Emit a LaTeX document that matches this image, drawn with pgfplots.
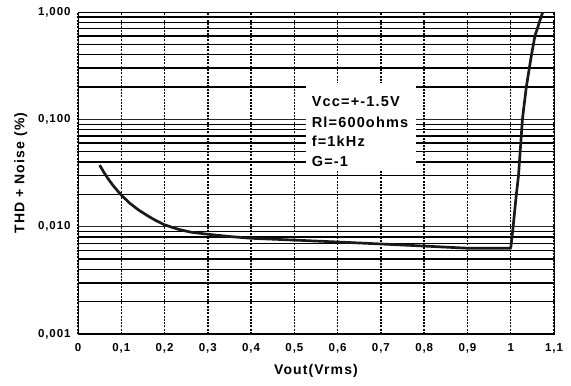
\documentclass[border=0pt]{standalone}
\usepackage{fontspec}
\setmainfont{Liberation Sans}[LetterSpace=8]
\usepackage{pgfplots}
\pgfplotsset{compat=1.18}
\begin{document}
\begin{tikzpicture}
\begin{axis}[
  width=476bp, height=322bp, scale only axis,
  xmin=0, xmax=1.1, ymode=log, ymin=0.001, ymax=1,
  xtick={0,0.1,0.2,0.3,0.4,0.5,0.6,0.7,0.8,0.9,1,1.1},
  xticklabels={0,{0,1},{0,2},{0,3},{0,4},{0,5},{0,6},{0,7},{0,8},{0,9},1,{1,1}},
  ytick={0.001,0.01,0.1,1},
  yticklabels={{0,001},{0,010},{0,100},{1,000}},
  /pgf/number format/assume math mode=true,
  ticklabel style={font=\fontsize{11.5bp}{13bp}\selectfont\bfseries},
  major tick length=0pt, minor tick length=0pt,
  xtick pos=bottom, ytick pos=left,
  xmajorgrids, ymajorgrids, yminorgrids,
  major grid style={black!85, line width=0.7pt},
  minor grid style={black, line width=1.5pt},
  x grid style={black, line width=1.4pt, dash pattern=on 2pt off 1.3pt},
  axis line style={black, line width=1pt},
  xlabel={Vout(Vrms)},
  ylabel={THD + Noise (\%)},
  label style={font=\fontsize{14bp}{16bp}\selectfont\bfseries},
  xlabel style={at={(axis description cs:0.5,-0.094)}, anchor=north, inner sep=0pt},
  ylabel style={at={(axis description cs:-0.12,0.5)}, anchor=center},
  yticklabel style={xshift=-4bp},
  xticklabel style={yshift=-6bp},
]
\fill[white] (axis cs:0.527,0.0337) rectangle (axis cs:0.781,0.218);
\addplot[black!90, line width=2.7pt, line join=round] coordinates {
(0.05,0.0375) (0.06,0.032) (0.07,0.0278) (0.08,0.0245) (0.09,0.0219) (0.1,0.0197)
(0.12,0.0165) (0.14,0.0143) (0.16,0.0127) (0.18,0.0114) (0.2,0.0104)
(0.23,0.0095) (0.26,0.0089) (0.3,0.0085) (0.35,0.0081)
(0.4,0.0078) (0.5,0.0075) (0.6,0.0072) (0.7,0.0069) (0.8,0.0066)
(0.9,0.0063) (1.0,0.0063) (1.005,0.0095) (1.013,0.02) (1.018,0.03)
(1.027,0.1) (1.036,0.2) (1.048,0.4) (1.056,0.6) (1.074,1.0)
};
\node[anchor=base west, font=\fontsize{14.5bp}{16bp}\selectfont\bfseries, inner sep=0pt] at (axis cs:0.54,0.133) {Vcc=+-1.5V};
\node[anchor=base west, font=\fontsize{14.5bp}{16bp}\selectfont\bfseries, inner sep=0pt] at (axis cs:0.54,0.0848) {Rl=600ohms};
\node[anchor=base west, font=\fontsize{14.5bp}{16bp}\selectfont\bfseries, inner sep=0pt] at (axis cs:0.54,0.0564) {f=1kHz};
\node[anchor=base west, font=\fontsize{14.5bp}{16bp}\selectfont\bfseries, inner sep=0pt] at (axis cs:0.54,0.0367) {G=-1};
\end{axis}
\path ([shift={(-78bp,-51bp)}]current axis.south west) rectangle ([shift={(17bp,12bp)}]current axis.north east);
\end{tikzpicture}
\end{document}
